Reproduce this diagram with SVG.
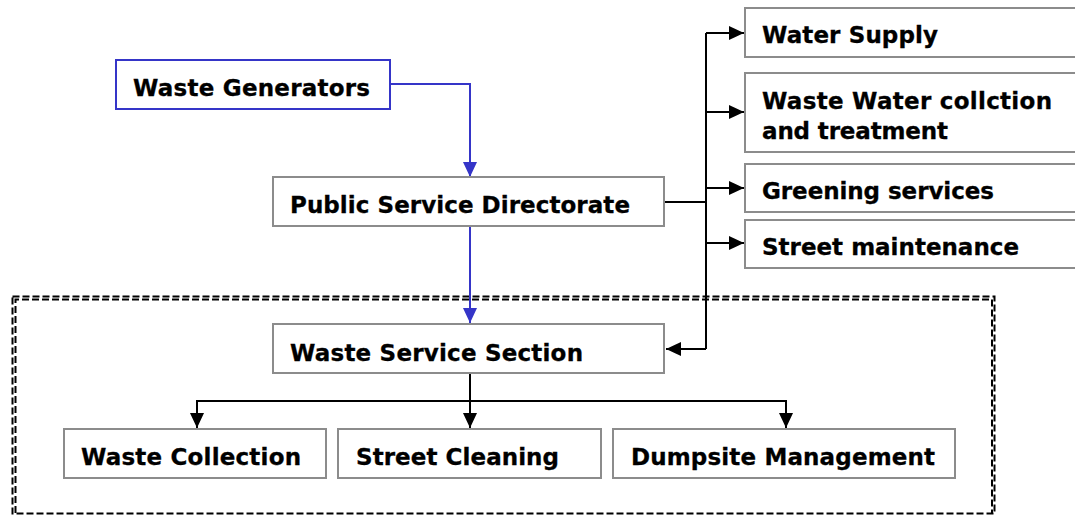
<svg xmlns="http://www.w3.org/2000/svg" width="1075" height="515" viewBox="0 0 1075 515">
<style>
.box{fill:#fff;stroke:#8c8c8c;stroke-width:2}
.bbox{fill:#fff;stroke:#3535c8;stroke-width:2}
.t{font-family:"DejaVu Sans",Verdana,sans-serif;font-weight:bold;font-size:23px;fill:#000;stroke:#000;stroke-width:0.3}
.c{fill:none;stroke:#000;stroke-width:2}
.cb{fill:none;stroke:#3535c8;stroke-width:2}
.dash{fill:none;stroke:#000;stroke-width:2;stroke-dasharray:7 3}
</style>
<defs>
<marker id="ab" markerUnits="userSpaceOnUse" markerWidth="15" markerHeight="14" viewBox="0 0 15 14" refX="15" refY="7" orient="auto"><path d="M0,0 L15,7 L0,14 Z" fill="#000"/></marker>
<marker id="abl" markerUnits="userSpaceOnUse" markerWidth="15" markerHeight="14" viewBox="0 0 15 14" refX="15" refY="7" orient="auto"><path d="M0,0 L15,7 L0,14 Z" fill="#3535c8"/></marker>
</defs>
<g id="frame">
<rect class="dash" x="12.5" y="296.5" width="982" height="217"/>
<path class="dash" d="M15.5,513 V299.5 H992 V513"/>
</g>
<g id="connectors">
<path class="cb" d="M390,84 H470 V177" marker-end="url(#abl)"/>
<path class="cb" d="M470,226 V323" marker-end="url(#abl)"/>
<path class="c" d="M664,202 H706"/>
<path class="c" d="M706,33 V349"/>
<path class="c" d="M706,33 H744" marker-end="url(#ab)"/>
<path class="c" d="M706,112 H744" marker-end="url(#ab)"/>
<path class="c" d="M706,188 H744" marker-end="url(#ab)"/>
<path class="c" d="M706,243 H744" marker-end="url(#ab)"/>
<path class="c" d="M706,349 H666" marker-end="url(#ab)"/>
<path class="c" d="M470,373 V428" marker-end="url(#ab)"/>
<path class="c" d="M197,428 V401 H786 V428" marker-end="url(#ab)"/>
<path class="c" d="M197,402 V428" marker-end="url(#ab)"/>
</g>
<g id="waste-generators">
<rect class="bbox" x="116" y="60" width="274" height="49"/>
<text class="t" x="133" y="96" textLength="237">Waste Generators</text>
</g>
<g id="public-service-directorate">
<rect class="box" x="273" y="177" width="391" height="49"/>
<text class="t" x="290" y="213" textLength="340">Public Service Directorate</text>
</g>
<g id="water-supply">
<rect class="box" x="745" y="8" width="335" height="49"/>
<text class="t" x="762" y="43" textLength="176">Water Supply</text>
</g>
<g id="waste-water">
<rect class="box" x="745" y="73" width="335" height="79"/>
<text class="t" x="762" y="109" textLength="290">Waste Water collction</text>
<text class="t" x="762" y="139" textLength="186">and treatment</text>
</g>
<g id="greening-services">
<rect class="box" x="745" y="164" width="335" height="48"/>
<text class="t" x="762" y="199" textLength="232">Greening services</text>
</g>
<g id="street-maintenance">
<rect class="box" x="745" y="220" width="335" height="48"/>
<text class="t" x="762" y="255" textLength="257">Street maintenance</text>
</g>
<g id="waste-service-section">
<rect class="box" x="273" y="324" width="391" height="49"/>
<text class="t" x="290" y="361" textLength="293">Waste Service Section</text>
</g>
<g id="waste-collection">
<rect class="box" x="64" y="429" width="262" height="49"/>
<text class="t" x="81" y="465" textLength="220">Waste Collection</text>
</g>
<g id="street-cleaning">
<rect class="box" x="338" y="429" width="263" height="49"/>
<text class="t" x="356" y="465" textLength="203">Street Cleaning</text>
</g>
<g id="dumpsite-management">
<rect class="box" x="613" y="429" width="342" height="49"/>
<text class="t" x="631" y="465" textLength="304">Dumpsite Management</text>
</g>
</svg>
